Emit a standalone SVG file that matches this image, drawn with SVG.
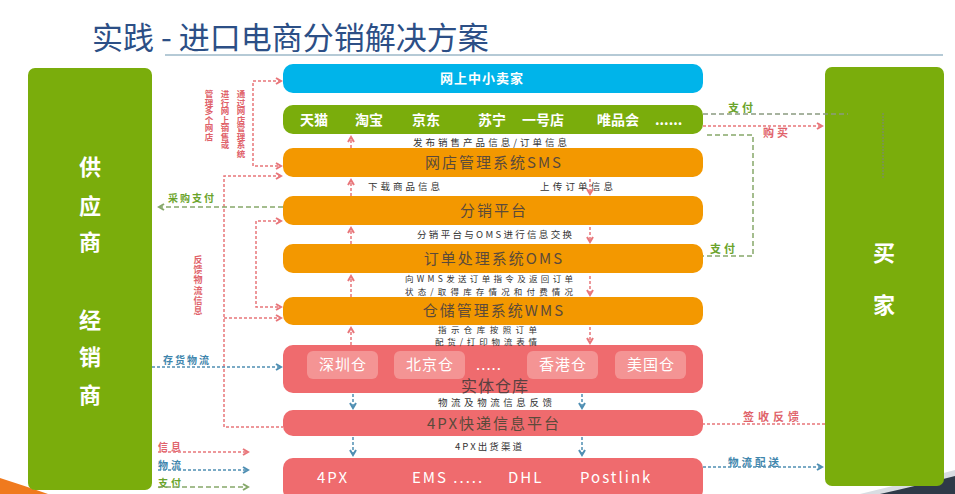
<svg xmlns="http://www.w3.org/2000/svg" width="955" height="494" viewBox="0 0 955 494">
<style>
text{font-family:"Noto Sans CJK SC","Noto Sans",sans-serif;}
.title{font-size:31px;fill:#2c4f86;}
.side{font-size:22px;font-weight:bold;fill:#fff;text-anchor:middle;}
.lbl{font-size:15px;fill:#5b4a3b;text-anchor:middle;letter-spacing:2px;}
.wl{font-size:14px;font-weight:bold;fill:#fff;}
.wh{font-size:15px;fill:#fff;text-anchor:middle;letter-spacing:1px;}
.px{font-size:15px;fill:#fff;letter-spacing:2px;}
.sm{font-size:9.5px;fill:#333;}
.sm2{font-size:8.5px;fill:#333;}
.rl{font-size:10px;font-weight:bold;fill:#e0626a;}
.bl{font-size:10px;font-weight:bold;fill:#3f86ad;}
.gl{font-size:10px;font-weight:bold;fill:#6aa32a;}
.vt{font-size:8.5px;font-weight:bold;fill:#e0626a;writing-mode:vertical-rl;}
.info{fill:none;stroke:#e8767a;stroke-width:1.5;stroke-dasharray:3 2;}
.logi{fill:none;stroke:#4f8fb3;stroke-width:1.5;stroke-dasharray:3 2;}
.pay{fill:none;stroke:#86a86a;stroke-width:1.5;stroke-dasharray:5 3;}
.green{fill:#7aad0c;}
.orange{fill:#f39800;}
.red{fill:#ef6b6e;}
.inner{fill:#f49494;}
</style>
<defs>
<marker id="ar" viewBox="0 0 8 8" refX="6" refY="4" markerWidth="8" markerHeight="8" markerUnits="userSpaceOnUse" orient="auto-start-reverse"><path d="M1,1 L6,4 L1,7" fill="none" stroke="#e8767a" stroke-width="2"/></marker>
<marker id="ab" viewBox="0 0 8 8" refX="6" refY="4" markerWidth="8" markerHeight="8" markerUnits="userSpaceOnUse" orient="auto-start-reverse"><path d="M1,1 L6,4 L1,7" fill="none" stroke="#4f8fb3" stroke-width="2"/></marker>
<marker id="ag" viewBox="0 0 8 8" refX="6" refY="4" markerWidth="8" markerHeight="8" markerUnits="userSpaceOnUse" orient="auto-start-reverse"><path d="M1,1 L6,4 L1,7" fill="none" stroke="#86a86a" stroke-width="2"/></marker>
</defs>
<rect width="955" height="494" fill="#fff"/>
<!-- decorative corners -->
<path d="M0,478 Q25,486 48,494 L0,494 Z" fill="#f07a1e"/>
<path d="M860,494 Q910,482 955,470 L955,494 Z" fill="#d9dde2"/>
<path d="M880,494 Q920,485 955,476 L955,494 Z" fill="#2e3a48"/>
<!-- title -->
<text class="title" x="92" y="49">实践 - 进口电商分销解决方案</text>
<line x1="165" y1="55" x2="943" y2="55" stroke="#9db9c8" stroke-width="1.5"/>

<g id="supplier"><rect class="green" x="28" y="68" width="124" height="422" rx="7"/>
<text class="side" x="90" y="175">供</text><text class="side" x="90" y="214">应</text><text class="side" x="90" y="250">商</text>
<text class="side" x="90" y="328">经</text><text class="side" x="90" y="365">销</text><text class="side" x="90" y="403">商</text></g>

<g id="buyer"><rect class="green" x="825" y="67" width="119" height="419" rx="7"/>
<line x1="883" y1="113" x2="883" y2="178" stroke="#7c8a70" stroke-width="1.2" stroke-dasharray="2 1"/>
<text class="side" x="884" y="261">买</text><text class="side" x="884" y="313">家</text></g>

<g id="sellers"><rect x="283" y="64" width="420" height="29" rx="10" fill="#00b4ea"/>
<text x="440" y="83" style="font-size:13px;font-weight:bold;fill:#fff;letter-spacing:1px">网上中小卖家</text></g>

<g id="shops"><rect class="green" x="283" y="105" width="420" height="29" rx="10"/>
<text class="wl" x="300" y="125">天猫</text><text class="wl" x="355" y="125">淘宝</text><text class="wl" x="412" y="125">京东</text><text class="wl" x="478" y="125">苏宁</text><text class="wl" x="522" y="125">一号店</text><text class="wl" x="597" y="125">唯品会</text><text class="wl" x="655" y="125">......</text></g>

<g id="sms"><rect class="orange" x="283" y="148" width="420" height="29" rx="10"/><text class="lbl" x="494" y="168">网店管理系统SMS</text></g>
<g id="dist"><rect class="orange" x="283" y="196" width="420" height="29" rx="10"/><text class="lbl" x="494" y="216">分销平台</text></g>
<g id="oms"><rect class="orange" x="283" y="244" width="420" height="29" rx="10"/><text class="lbl" x="494" y="264">订单处理系统OMS</text></g>
<g id="wms"><rect class="orange" x="283" y="297" width="420" height="28" rx="10"/><text class="lbl" x="494" y="316">仓储管理系统WMS</text></g>

<g id="warehouse"><rect class="red" x="283" y="345" width="420" height="48" rx="10"/>
<rect class="inner" x="307" y="351" width="71" height="28" rx="6"/><text class="wh" x="343" y="370">深圳仓</text>
<rect class="inner" x="394" y="351" width="71" height="28" rx="6"/><text class="wh" x="430" y="370">北京仓</text>
<text class="wh" x="489" y="370">.....</text>
<rect class="inner" x="527" y="351" width="71" height="28" rx="6"/><text class="wh" x="563" y="370">香港仓</text>
<rect class="inner" x="615" y="351" width="71" height="28" rx="6"/><text class="wh" x="651" y="370">美国仓</text>
<text x="495" y="392" style="font-size:16px;fill:#5b4040;text-anchor:middle;letter-spacing:1px">实体仓库</text></g>

<g id="express"><rect class="red" x="283" y="410" width="420" height="26" rx="10"/><text class="lbl" x="494" y="429">4PX快递信息平台</text></g>

<g id="carriers"><rect class="red" x="283" y="458" width="420" height="42" rx="10"/>
<text class="px" x="317" y="483">4PX</text><text class="px" x="412" y="483">EMS .....</text><text class="px" x="508" y="483">DHL</text><text class="px" x="580" y="483">Postlink</text></g>

<g id="labels">
<text class="sm" x="413" y="146" textLength="154" lengthAdjust="spacing">发布销售产品信息/订单信息</text>
<text class="sm" x="368" y="190" textLength="72" lengthAdjust="spacing">下载商品信息</text>
<text class="sm" x="540" y="190" textLength="73" lengthAdjust="spacing">上传订单信息</text>
<text class="sm" x="417" y="238" textLength="155" lengthAdjust="spacing">分销平台与OMS进行信息交换</text>
<text class="sm2" x="405" y="282" textLength="168" lengthAdjust="spacing">向WMS发送订单指令及返回订单</text>
<text class="sm2" x="405" y="294.5" textLength="168" lengthAdjust="spacing">状态/取得库存情况和付费情况</text>
<text class="sm2" x="438" y="332.5" textLength="99" lengthAdjust="spacing">指示仓库按照订单</text>
<text class="sm2" x="435" y="345" textLength="102" lengthAdjust="spacing">配货/打印物流表情</text>
<text class="sm" x="438" y="406" textLength="114" lengthAdjust="spacing">物流及物流信息反馈</text>
<text class="sm" x="455" y="450" textLength="67" lengthAdjust="spacing">4PX出货渠道</text>
<text class="vt" x="241" y="90">通过网店管理系统</text>
<text class="vt" x="225" y="90">进行网上销售或</text>
<text class="vt" x="209" y="90">管理多个网店</text>
<text class="vt" x="198" y="255" style="font-size:9px;letter-spacing:1.2px">反馈物流信息</text>
<text class="gl" x="168" y="202" letter-spacing="2">采购支付</text>
<text class="bl" x="163" y="364" letter-spacing="2">存货物流</text>
<text class="gl" x="728" y="112" style="font-size:11px" letter-spacing="3">支付</text>
<text class="rl" x="763" y="137" style="font-size:11px" letter-spacing="3">购买</text>
<text class="gl" x="710" y="253" style="font-size:11px" letter-spacing="3">支付</text>
<text class="rl" x="743" y="421" style="font-size:11px" letter-spacing="4">签收反馈</text>
<text class="bl" x="728" y="466" style="font-size:10.5px" letter-spacing="3">物流配送</text>
<text class="rl" x="158" y="451" letter-spacing="3">信息</text>
<text class="bl" x="158" y="469" letter-spacing="3">物流</text>
<text class="gl" x="158" y="487" letter-spacing="3">支付</text>
</g>

<g id="connectors">
<path class="info" d="M281,81 H253 V166 H281" marker-start="url(#ar)" marker-end="url(#ar)"/>
<path class="info" d="M281,176 H224 V427 H283" marker-start="url(#ar)"/>
<path class="info" d="M224,318 H281" marker-end="url(#ar)"/>
<path class="info" d="M281,221 H256 V307 H281" marker-start="url(#ar)" marker-end="url(#ar)"/>
<path class="info" d="M351,148 V137" marker-end="url(#ar)"/>
<path class="info" d="M351,196 V180" marker-end="url(#ar)"/>
<path class="info" d="M351,244 V228" marker-end="url(#ar)"/>
<path class="info" d="M351,297 V276" marker-end="url(#ar)"/>
<path class="info" d="M351,345 V328" marker-end="url(#ar)"/>
<path class="info" d="M590,179 V194" marker-end="url(#ar)"/>
<path class="info" d="M590,227 V242" marker-end="url(#ar)"/>
<path class="info" d="M590,276 V295" marker-end="url(#ar)"/>
<path class="info" d="M590,327 V343" marker-end="url(#ar)"/>
<path class="info" d="M703,126 H822" marker-end="url(#ar)"/>
<path class="info" d="M825,424 H703"/>
<path class="info" d="M158,452 H248" marker-end="url(#ar)"/>
<path class="logi" d="M152,367 H281" marker-end="url(#ab)"/>
<path class="logi" d="M353,394 V408" marker-end="url(#ab)"/>
<path class="logi" d="M353,437 V455" marker-end="url(#ab)"/>
<path class="logi" d="M582,394 V408" marker-end="url(#ab)"/>
<path class="logi" d="M582,437 V455" marker-end="url(#ab)"/>
<path class="logi" d="M703,467 H822" marker-end="url(#ab)"/>
<path class="logi" d="M158,470 H248" marker-end="url(#ab)"/>
<path class="pay" d="M283,207 H159" marker-end="url(#ag)"/>
<path class="pay" d="M703,114 H848" style="stroke:#8a9a80"/>
<path class="pay" d="M707,135 H753 V256 H703"/>
<path class="pay" d="M158,487 H248" marker-end="url(#ag)"/>
</g>
</svg>
